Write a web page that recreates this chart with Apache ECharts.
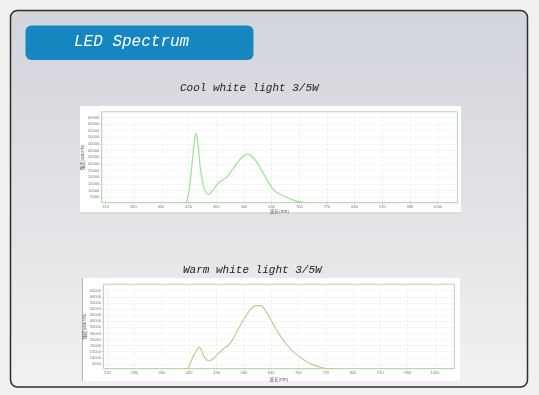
<!DOCTYPE html>
<html>
<head>
<meta charset="utf-8">
<script src="https://cdn.jsdelivr.net/npm/echarts@6/dist/echarts.min.js"></script>
<style>
html,body{margin:0;padding:0;background:#f1f1f1;}
#c{width:539px;height:395px;}
</style>
</head>
<body>
<div id="c"></div>
<script>
// ---- data ----
const headerText = 'LED Spectrum';
const coolTitle = 'Cool white light 3/5W';
const warmTitle = 'Warm white light 3/5W';
const xAxisName = '波长(nm)';
const yAxisName = '强度(counts)';
const xTickLabels = [210, 280, 350, 420, 490, 560, 630, 700, 770, 840, 910, 980, 1050];
const yTickLabels = [5000, 10000, 15000, 20000, 25000, 30000, 35000, 40000, 45000, 50000, 55000, 60000, 65000];

const coolWavelengths = [400, 410, 415, 420, 425, 430, 434, 438, 441, 445, 450, 455, 461, 470, 478, 491, 499, 516, 533, 550, 562, 571, 579, 592, 609, 626, 638, 651, 668, 685, 702, 720];
const coolCounts = [1000, 1100, 1800, 8000, 20000, 34000, 46000, 53000, 50000, 40000, 26000, 17000, 10500, 7400, 9200, 14200, 16700, 20000, 26800, 33500, 36700, 37300, 36000, 31700, 23000, 14200, 9700, 7500, 5000, 3000, 1700, 1000];

const warmWavelengths = [405, 415, 426, 437, 446, 453, 460, 471, 482, 495, 507, 525, 542, 559, 571, 584, 597, 606, 614, 627, 644, 661, 678, 696, 717, 738, 760, 772, 790];
const warmCounts = [1100, 1300, 8300, 15000, 18700, 15000, 10100, 7400, 9700, 13700, 17000, 21900, 31400, 41000, 47000, 51900, 52700, 52500, 49200, 42400, 32800, 24600, 17800, 12400, 7700, 4200, 2000, 1200, 1100];

// ---- chart ----
const chart = echarts.init(document.getElementById('c'), null, {renderer: 'canvas', width: 539, height: 395});

const zip = (xs, ys) => xs.map((x, i) => [x, ys[i]]);

const labelFont = {fontSize: 4, color: '#777', fontFamily: 'Liberation Sans', formatter: v => String(v)};
function makeX(gridIndex, nameGap) {
  return {
    type: 'value', gridIndex, min: 200, max: 1100,
    name: xAxisName, nameLocation: 'middle', nameGap, nameMoveOverlap: false,
    nameTextStyle: {fontSize: 4.5, color: '#555', fontFamily: 'Noto Sans CJK SC'},
    axisLine: {show: true, lineStyle: {color: '#b2dcaa', width: 1}},
    axisTick: {show: true, customValues: xTickLabels, length: 1.5, lineStyle: {color: '#bbb', width: 0.5}},
    axisLabel: Object.assign({customValues: xTickLabels, margin: 2}, labelFont),
    splitLine: {show: true, lineStyle: {color: '#e4e4e4', width: 0.6, type: [2, 2]}}
  };
}
function makeY(gridIndex, min, max) {
  return {
    type: 'value', gridIndex, min, max,
    name: yAxisName, nameLocation: 'middle', nameGap: 17, nameRotate: 90, nameMoveOverlap: false,
    nameTextStyle: {fontSize: 4.5, color: '#555', fontFamily: 'Noto Sans CJK SC'},
    axisLine: {show: true, lineStyle: {color: '#b2dcaa', width: 1}},
    axisTick: {show: true, customValues: yTickLabels, length: 1.5, lineStyle: {color: '#bbb', width: 0.5}},
    axisLabel: Object.assign({customValues: yTickLabels, margin: 2.5}, labelFont),
    splitLine: {show: true, lineStyle: {color: '#e4e4e4', width: 0.6, type: [2, 2]}}
  };
}

const titleStyle = {fontFamily: 'Liberation Mono', fontStyle: 'italic', fontWeight: 'normal'};

const option = {
  animation: false,
  backgroundColor: '#f1f1f1',
  title: [
    {text: headerText, left: 74, top: 34, padding: 0,
     textStyle: Object.assign({fontSize: 16, color: '#ffffff'}, titleStyle)},
    {text: coolTitle, left: 180, top: 82.5, padding: 0,
     textStyle: Object.assign({fontSize: 11, color: '#222222'}, titleStyle)},
    {text: warmTitle, left: 183, top: 264.5, padding: 0,
     textStyle: Object.assign({fontSize: 11, color: '#222222'}, titleStyle)}
  ],
  graphic: [
    {type: 'rect', z: -100, silent: true,
     shape: {x: 10.5, y: 10.5, width: 517, height: 376.5, r: 7},
     style: {
       fill: {type: 'linear', x: 0, y: 0, x2: 0, y2: 1,
              colorStops: [{offset: 0, color: '#d3d5dd'}, {offset: 0.55, color: '#e3e3e7'}, {offset: 1, color: '#f3f1f1'}]},
       stroke: '#2e2e2e', lineWidth: 1.5
     }},
    {type: 'rect', z: -90, silent: true,
     shape: {x: 25.5, y: 25.5, width: 228, height: 34.5, r: 6},
     style: {fill: '#1686c0'}},
    {type: 'rect', z: -90, silent: true,
     shape: {x: 80, y: 106, width: 381, height: 107},
     style: {fill: '#ffffff'}},
    {type: 'rect', z: -89, silent: true,
     shape: {x: 80, y: 212, width: 381, height: 2},
     style: {fill: '#dcdcdc'}},
    {type: 'rect', z: -90, silent: true,
     shape: {x: 82, y: 278, width: 378, height: 103},
     style: {fill: '#ffffff'}},
    {type: 'rect', z: -89, silent: true,
     shape: {x: 82, y: 278, width: 1, height: 103},
     style: {fill: '#b5b5b5'}}
  ],
  grid: [
    {left: 101.7, top: 111.8, width: 355.7, height: 90.9, show: true,
     borderColor: '#b2dcaa', borderWidth: 1, backgroundColor: 'transparent', containLabel: false, outerBoundsMode: 'none'},
    {left: 103.4, top: 284.3, width: 351.1, height: 84.4, show: true,
     borderColor: '#b2dcaa', borderWidth: 1, backgroundColor: 'transparent', containLabel: false, outerBoundsMode: 'none'}
  ],
  xAxis: [makeX(0, 6.5), makeX(1, 8.5)],
  yAxis: [makeY(0, 1000, 69200), makeY(1, 1100, 70200)],
  series: [
    {type: 'line', name: coolTitle, xAxisIndex: 0, yAxisIndex: 0,
     data: zip(coolWavelengths, coolCounts), showSymbol: false, smooth: 0.35,
     lineStyle: {color: '#9fe69a', width: 1.3}},
    {type: 'line', name: warmTitle, xAxisIndex: 1, yAxisIndex: 1,
     data: zip(warmWavelengths, warmCounts), showSymbol: false, smooth: 0.35,
     lineStyle: {color: '#c9c78e', width: 1.2}}
  ]
};
chart.setOption(option);
</script>
</body>
</html>
